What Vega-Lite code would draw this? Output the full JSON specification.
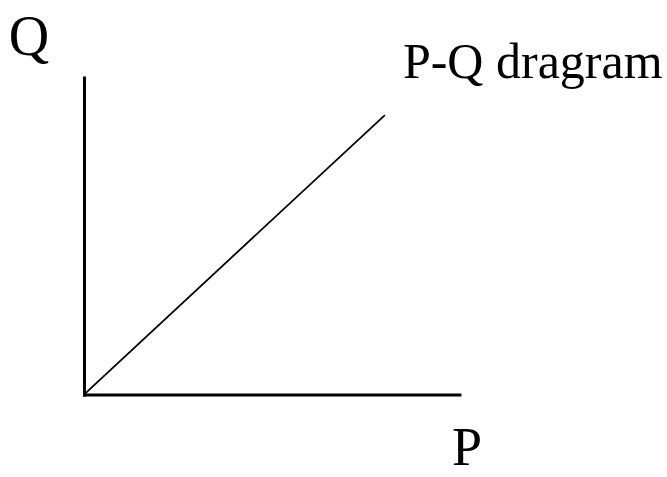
{
  "$schema": "https://vega.github.io/schema/vega-lite/v6.json",
  "width": 667,
  "height": 477,
  "padding": 0,
  "autosize": {"type": "none"},
  "background": "white",
  "config": {"view": {"stroke": null}},
  "datasets": {
    "lines": [
      {"seg": "Q axis", "order": 0, "P": 0, "Q": 0},
      {"seg": "Q axis", "order": 1, "P": 0, "Q": 100},
      {"seg": "P axis", "order": 0, "P": 0, "Q": 0},
      {"seg": "P axis", "order": 1, "P": 100, "Q": 0},
      {"seg": "diagonal", "order": 0, "P": 0, "Q": 0.3},
      {"seg": "diagonal", "order": 1, "P": 80, "Q": 88.3}
    ],
    "labels": [
      {"text": "Q", "P": -14.8, "Q": 107.3, "kind": "axis"},
      {"text": "P", "P": 101.9, "Q": -25.4, "kind": "paxis"},
      {"text": "P-Q dragram", "P": 84.8, "Q": 100, "kind": "title"}
    ]
  },
  "layer": [
    {
      "data": {"name": "lines"},
      "transform": [{"filter": "datum.seg !== 'diagonal'"}],
      "mark": {"type": "line", "color": "black", "strokeWidth": 3, "strokeCap": "square"},
      "encoding": {
        "x": {"field": "P", "type": "quantitative", "scale": {"domain": [-22.5, 155.13], "nice": false, "zero": false}, "axis": null},
        "y": {"field": "Q", "type": "quantitative", "scale": {"domain": [-25.87, 124.61], "nice": false, "zero": false}, "axis": null},
        "detail": {"field": "seg"},
        "order": {"field": "order"}
      }
    },
    {
      "data": {"name": "lines"},
      "transform": [{"filter": "datum.seg === 'diagonal'"}],
      "mark": {"type": "line", "color": "black", "strokeWidth": 1.8},
      "encoding": {
        "x": {"field": "P", "type": "quantitative", "axis": null},
        "y": {"field": "Q", "type": "quantitative", "axis": null},
        "order": {"field": "order"}
      }
    },
    {
      "data": {"name": "labels"},
      "transform": [{"filter": "datum.kind === 'axis'"}],
      "mark": {"type": "text", "font": "Liberation Serif", "fontSize": 56, "align": "center", "baseline": "alphabetic", "color": "black"},
      "encoding": {
        "x": {"field": "P", "type": "quantitative", "axis": null},
        "y": {"field": "Q", "type": "quantitative", "axis": null},
        "text": {"field": "text"}
      }
    },
    {
      "data": {"name": "labels"},
      "transform": [{"filter": "datum.kind === 'paxis'"}],
      "mark": {"type": "text", "font": "Liberation Serif", "fontSize": 54, "align": "center", "baseline": "bottom", "color": "black"},
      "encoding": {
        "x": {"field": "P", "type": "quantitative", "axis": null},
        "y": {"field": "Q", "type": "quantitative", "axis": null},
        "text": {"field": "text"}
      }
    },
    {
      "data": {"name": "labels"},
      "transform": [{"filter": "datum.kind === 'title'"}],
      "mark": {"type": "text", "font": "Liberation Serif", "fontSize": 50, "align": "left", "baseline": "alphabetic", "color": "black"},
      "encoding": {
        "x": {"field": "P", "type": "quantitative", "axis": null},
        "y": {"field": "Q", "type": "quantitative", "axis": null},
        "text": {"field": "text"}
      }
    }
  ]
}
